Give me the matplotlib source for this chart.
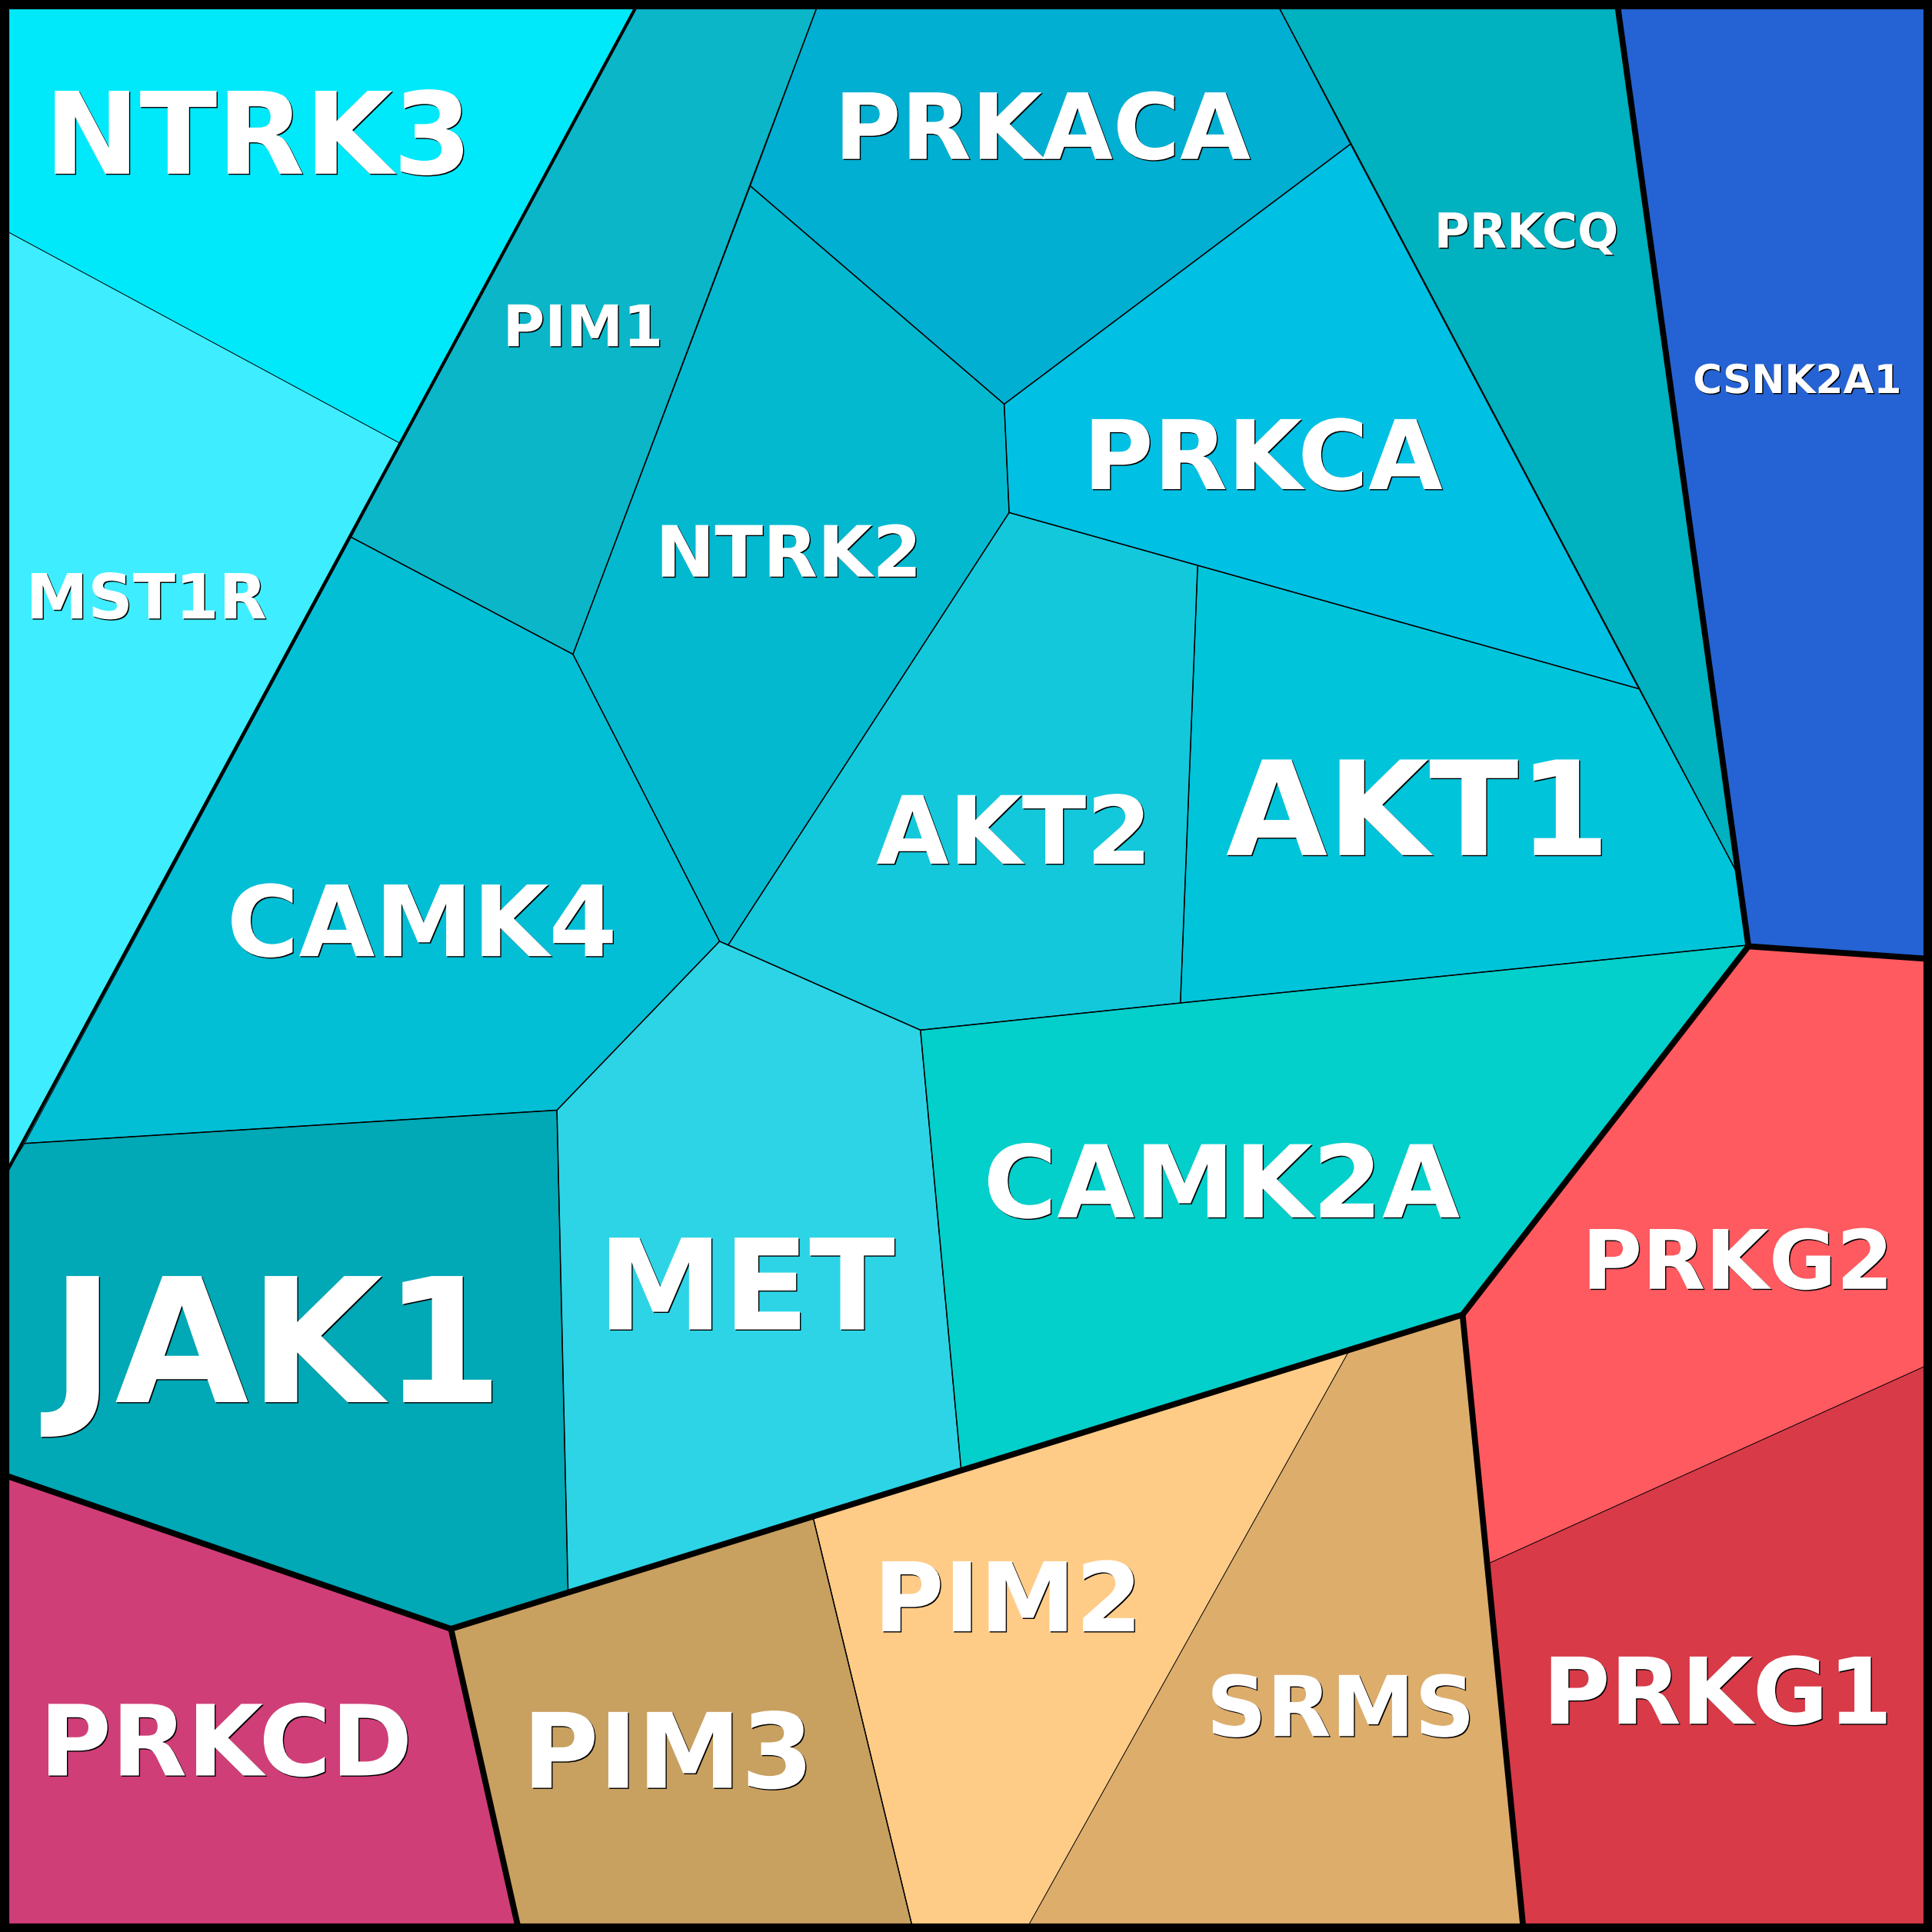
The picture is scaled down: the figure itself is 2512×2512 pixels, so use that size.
import matplotlib
matplotlib.use("Agg")
import matplotlib.pyplot as plt
import matplotlib.patheffects as pe
from matplotlib.patches import Polygon

# cell outlines, in a 1568 x 1568 map
ntrk3 = [(6, 6), (516, 6), (325, 360), (6, 188)]
mst1r = [(6, 188), (325, 360), (285, 436), (20, 928), (6, 950)]
pim1 = [(516, 6), (663, 6), (609, 151), (465, 531), (285, 436), (325, 360)]
prkaca = [(663, 6), (1038, 6), (1096, 117), (815, 328), (609, 151)]
ntrk2 = [(609, 151), (815, 328), (819, 416), (591, 767), (584, 764), (465, 531)]
prkca = [(815, 328), (1096, 117), (1330, 559), (972, 459), (819, 416)]
prkcq = [(1038, 6), (1313, 6), (1409, 707), (1330, 559), (1096, 117)]
csnk2a1 = [(1313, 6), (1562, 6), (1562, 779), (1419, 768)]
akt1 = [(972, 459), (1330, 559), (1409, 707), (1419, 767), (958, 814)]
akt2 = [(819, 416), (972, 459), (958, 814), (747, 836), (591, 767)]
camk4 = [(285, 436), (465, 531), (584, 764), (452, 901), (20, 928)]
jak1 = [(6, 950), (20, 928), (452, 901), (461, 1291), (366, 1322), (6, 1198)]
met = [(452, 901), (584, 764), (747, 836), (780, 1192), (461, 1291)]
camk2a = [(747, 836), (958, 814), (1419, 767), (1187, 1067), (1095, 1096), (780, 1192)]
prkg2 = [(1419, 767), (1562, 778), (1562, 1109), (1208, 1269), (1187, 1067)]
prkg1 = [(1208, 1269), (1562, 1109), (1562, 1562), (1236, 1562)]
srms = [(1095, 1096), (1187, 1067), (1236, 1562), (835, 1562)]
pim2 = [(660, 1232), (1095, 1096), (835, 1562), (740, 1562)]
pim3 = [(366, 1322), (660, 1232), (740, 1562), (420, 1562)]
prkcd = [(6, 1198), (366, 1322), (420, 1562), (6, 1562)]

cells = [ntrk3, mst1r, pim1, prkaca, ntrk2, prkca, prkcq, csnk2a1, akt1, akt2,
         camk4, jak1, met, camk2a, prkg2, prkg1, srms, pim2, pim3, prkcd]
names = ["NTRK3", "MST1R", "PIM1", "PRKACA", "NTRK2", "PRKCA", "PRKCQ", "CSNK2A1", "AKT1", "AKT2",
         "CAMK4", "JAK1", "MET", "CAMK2A", "PRKG2", "PRKG1", "SRMS", "PIM2", "PIM3", "PRKCD"]
colors = ["#00E9FB", "#3EEDFF", "#0BB6C9", "#00AFD1", "#03B9D0", "#00C0E4", "#00B1BF", "#2563D4", "#00C4DA", "#14C8DC",
          "#02BFD6", "#01A8B5", "#2CD4E6", "#03CFCB", "#FF5A60", "#D83A48", "#DDAD6C", "#FFCC88", "#C8A060", "#D03E78"]

label_x = [36, 21, 408, 677, 532, 879, 1164, 1374, 995, 711,
           184, 41, 485, 798, 1284, 1252, 979, 709, 424, 32]
label_y = [141, 502, 281, 129, 468, 397, 201, 319, 694, 701,
           776, 1138, 1079, 988, 1046, 1399, 1409, 1324, 1451, 1441]
label_size = [106.5, 58.4, 53.7, 85.5, 66.3, 90, 45.2, 37.2, 122.8, 88.2,
              92, 162, 118, 94, 76.8, 86.3, 78.5, 90, 97.5, 92]

# group boundaries drawn over the cells
heavy_lines = [
    [(1313, 6), (1419, 768), (1187, 1067), (366, 1322), (6, 1198)],
    [(366, 1322), (420, 1562)],
    [(1187, 1067), (1236, 1562)],
    [(1419, 768), (1562, 778)],
]
medium_lines = [
    [(516, 6), (6, 950)],
]
fine_lines = [
    [(663, 6), (465, 531), (584, 764), (452, 901), (20, 928)],
    [(285, 436), (465, 531)],
    [(609, 151), (815, 328), (1096, 117)],
    [(815, 328), (819, 416), (591, 767), (747, 836), (958, 814), (1419, 767)],
    [(584, 764), (591, 767)],
    [(819, 416), (1330, 559)],
    [(972, 459), (958, 814)],
    [(1038, 6), (1409, 707), (1419, 767)],
    [(452, 901), (461, 1291)],
    [(747, 836), (780, 1192)],
    [(660, 1232), (740, 1562)],
]

fig = plt.figure(figsize=(25.12, 25.12), dpi=100)
ax = fig.add_axes([0, 0, 1, 1])
ax.set_xlim(0, 1568)
ax.set_ylim(1568, 0)
ax.axis("off")

for cell, color in zip(cells, colors):
    ax.add_patch(Polygon(cell, closed=True, facecolor=color, edgecolor="black", linewidth=0.6))

for line in fine_lines:
    ax.plot(*zip(*line), color="black", linewidth=1.1, solid_capstyle="round")
for line in medium_lines:
    ax.plot(*zip(*line), color="black", linewidth=3, solid_capstyle="round")
for line in heavy_lines:
    ax.plot(*zip(*line), color="black", linewidth=5.6, solid_capstyle="round", solid_joinstyle="round")

ax.add_patch(Polygon([(3, 3), (1565, 3), (1565, 1565), (3, 1565)], closed=True,
                     fill=False, edgecolor="black", linewidth=9.5, joinstyle="miter"))

shadow = [pe.withSimplePatchShadow(offset=(1, -1), shadow_rgbFace="black", alpha=1)]
for name, x, y, size in zip(names, label_x, label_y, label_size):
    ax.text(x, y, name, color="white", fontsize=size, fontweight="bold", family="DejaVu Sans",
            ha="left", va="baseline", path_effects=shadow)

fig.savefig("out.png", dpi=100)
